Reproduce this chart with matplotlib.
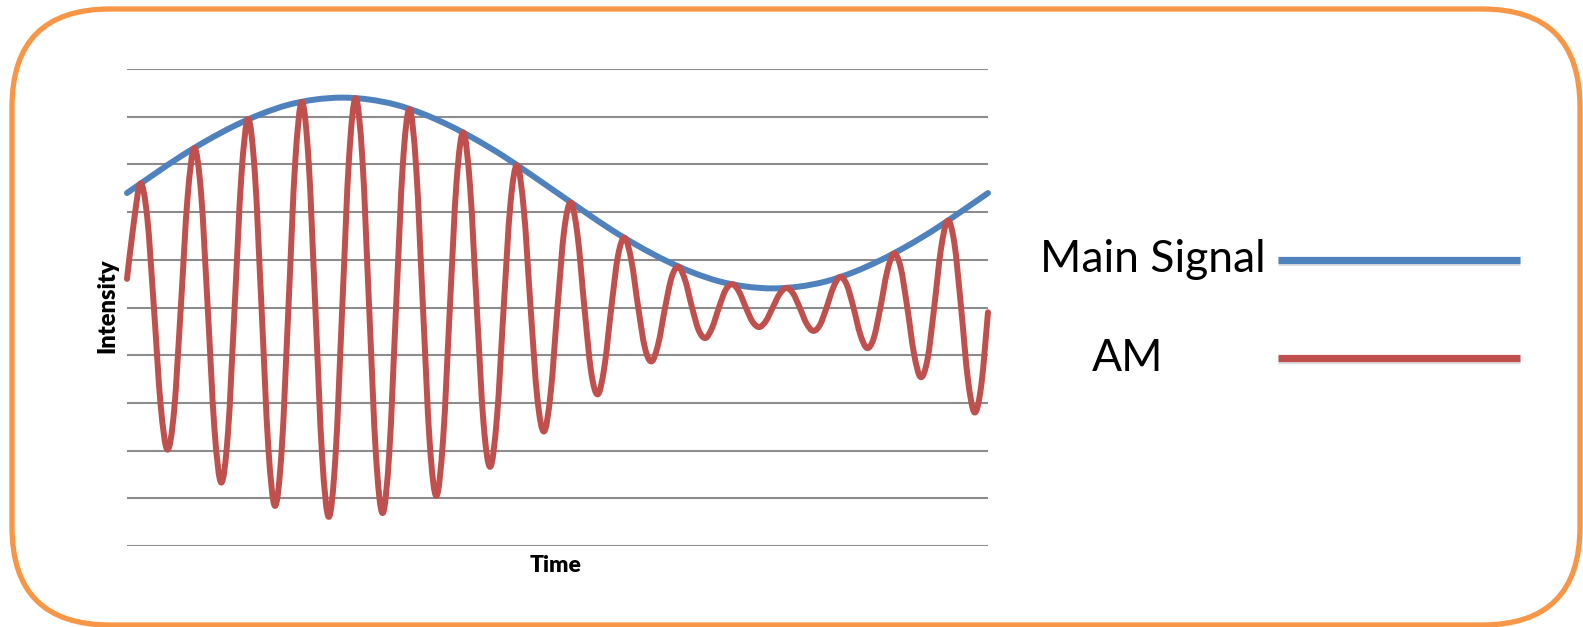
import numpy as np
import matplotlib
matplotlib.use("Agg")
import matplotlib.pyplot as plt
from matplotlib.path import Path
from matplotlib.patches import PathPatch, FancyBboxPatch
from matplotlib.lines import Line2D
import matplotlib.patheffects as pe

plt.rcParams['font.family'] = ['Lato', 'DejaVu Sans']

# ---------------- data ----------------
main_time = list(range(0, 129, 4))
main_signal = [7.40, 7.79, 8.17, 8.51, 8.81, 9.06, 9.25, 9.36, 9.40,
               9.36, 9.25, 9.06, 8.81, 8.51, 8.17, 7.79, 7.40,
               7.01, 6.63, 6.29, 5.99, 5.74, 5.55, 5.44, 5.40,
               5.44, 5.55, 5.74, 5.99, 6.29, 6.63, 7.01, 7.40]

am_time = list(range(0, 129))
am_signal = [5.60, 6.77, 7.60, 6.90, 5.00, 2.96, 2.02, 2.83,
             5.00, 7.30, 8.34, 7.42, 5.00, 2.46, 1.33, 2.35,
             5.00, 7.75, 8.95, 7.83, 5.00, 2.09, 0.84, 2.02,
             5.00, 8.03, 9.31, 8.07, 5.00, 1.90, 0.61, 1.89,
             5.00, 8.11, 9.39, 8.10, 5.00, 1.93, 0.69, 1.97,
             5.00, 7.98, 9.16, 7.91, 5.00, 2.17, 1.05, 2.25,
             5.00, 7.65, 8.67, 7.54, 5.00, 2.58, 1.66, 2.70,
             5.00, 7.17, 7.98, 7.04, 5.00, 3.10, 2.40, 3.23,
             5.00, 6.63, 7.20, 6.49, 5.00, 3.65, 3.18, 3.78,
             5.00, 6.09, 6.46, 5.97, 5.00, 4.15, 3.87, 4.25,
             5.00, 5.65, 5.85, 5.56, 5.00, 4.52, 4.36, 4.58,
             5.00, 5.37, 5.49, 5.33, 5.00, 4.70, 4.59, 4.72,
             5.00, 5.28, 5.41, 5.30, 5.00, 4.67, 4.51, 4.63,
             5.00, 5.42, 5.64, 5.48, 5.00, 4.44, 4.15, 4.35,
             5.00, 5.75, 6.13, 5.85, 5.00, 4.03, 3.54, 3.91,
             5.00, 6.22, 6.82, 6.35, 5.00, 3.51, 2.80, 3.37,
             4.90]

y_gridlines = list(range(0, 11))
series_names = ["Main Signal", "AM"]
x_label = "Time"
y_label = "Intensity"

BLUE = "#4F81BD"
RED = "#C0504D"
ORANGE = "#F79646"
GRID = "#8C8C8C"


def smooth_path(xs, ys):
    """Excel-style smoothed line (Catmull-Rom Bezier) through the points."""
    pts = np.column_stack([np.asarray(xs, float), np.asarray(ys, float)])
    n = len(pts)
    verts = [pts[0]]
    codes = [Path.MOVETO]
    for i in range(n - 1):
        p0 = pts[i - 1] if i > 0 else pts[i]
        p1 = pts[i]
        p2 = pts[i + 1]
        p3 = pts[i + 2] if i + 2 < n else pts[i + 1]
        c1 = p1 + (p2 - p0) / 6.0
        c2 = p2 - (p3 - p1) / 6.0
        verts += [c1, c2, p2]
        codes += [Path.CURVE4] * 3
    return Path(verts, codes)


W, H = 1583, 627
fig = plt.figure(figsize=(W / 100, H / 100), dpi=100)
fig.patch.set_facecolor("white")

# rounded orange frame
frame = FancyBboxPatch((12, H - 625), 1568, 616,
                       boxstyle="round,pad=0,rounding_size=98",
                       transform=None, fill=False, edgecolor=ORANGE,
                       linewidth=3.8, zorder=0)
fig.patches.append(frame)

ax = fig.add_axes([127 / W, 81 / H, 861 / W, 477 / H])
ax.set_xlim(0, 128)
ax.set_ylim(0, 10)
for s in ax.spines.values():
    s.set_visible(False)
ax.set_xticks([])
ax.set_yticks([])
ax.patch.set_alpha(0)

for g in y_gridlines:
    ax.axhline(g, color=GRID, linewidth=1.5, zorder=1)

shadow = [pe.SimpleLineShadow(offset=(0, -1.2), shadow_color="#808080", alpha=0.25),
          pe.Normal()]

am_patch = PathPatch(smooth_path(am_time, am_signal), fill=False,
                     edgecolor=RED, linewidth=4.3, capstyle="round",
                     joinstyle="round", zorder=3, clip_on=False)
ax.add_patch(am_patch)
main_patch = PathPatch(smooth_path(main_time, main_signal), fill=False,
                       edgecolor=BLUE, linewidth=4.3, capstyle="round",
                       joinstyle="round", zorder=2, clip_on=False)
ax.add_patch(main_patch)

# axis titles
fig.text(556 / W, 1 - 566 / H, x_label, ha="center", va="center",
         fontsize=16.5, fontweight="heavy", color="black")
fig.text(107 / W, 1 - 306 / H, y_label, ha="center", va="center",
         rotation=90, fontsize=17, fontweight="heavy", color="black")

# legend
fig.text(1266 / W, 1 - 259 / H, series_names[0], ha="right", va="center",
         fontsize=32, color="black")
fig.text(1128 / W, 1 - 359 / H, series_names[1], ha="center", va="center",
         fontsize=32, color="black")
for yy, col in [(260, BLUE), (358, RED)]:
    ln = Line2D([1278 / W, 1520 / W], [1 - yy / H, 1 - yy / H],
                transform=fig.transFigure, color=col, linewidth=5.2,
                solid_capstyle="butt", path_effects=shadow)
    fig.lines.append(ln)

fig.savefig("out.png", dpi=100)
